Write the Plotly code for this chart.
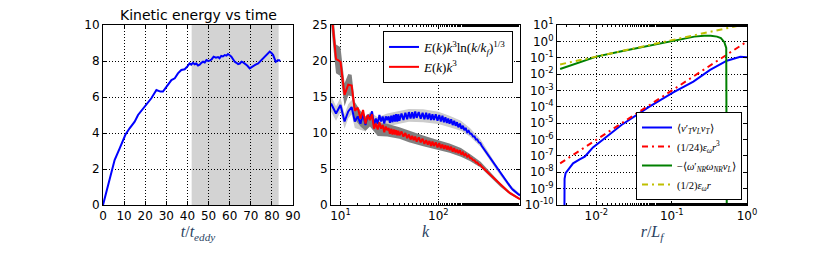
import plotly.graph_objects as go

# ---------------- Left panel: kinetic energy vs time ----------------
t_vals = [0, 5.5, 7.9, 10.6, 12.6, 15, 16.6, 19, 21.3, 22.9, 25.3, 26, 27.2, 28.4, 30, 32.4, 34,
          35.5, 37.1, 38.7, 40, 41, 41.8, 42.6, 43.4, 44.2, 45, 45.8, 46.6, 47.4, 48.2, 49, 49.8,
          50.6, 51.5, 52.4, 53.5, 54.5, 55.2, 56, 56.8, 57.7, 58.5, 59.2, 60, 60.8, 61.6, 62.4,
          63.2, 64, 64.8, 65.6, 66.4, 67.1, 68.3, 69.5, 70.3, 71.1, 72.3, 73.5, 74.2, 75, 75.8,
          76.6, 77.4, 78.2, 79, 79.8, 80.6, 81.2, 81.8, 82.4, 82.9, 83.5, 84]
ke_vals = [0, 2.5, 3.15, 3.9, 4.26, 4.63, 5.0, 5.37, 5.74, 5.93, 6.39, 6.35, 6.30, 6.30, 6.57, 6.94, 7.04,
           7.31, 7.50, 7.54, 7.70, 7.87, 7.80, 7.90, 7.82, 7.86, 7.75, 7.80, 7.90, 7.96, 7.92, 8.05, 8.00,
           8.02, 8.10, 8.24, 8.18, 8.22, 8.15, 8.28, 8.25, 8.33, 8.30, 8.39, 8.32, 8.24, 8.10, 7.96,
           7.90, 7.83, 7.86, 7.96, 7.92, 7.87, 7.75, 7.59, 7.66, 7.72, 7.80, 7.87, 7.95, 8.05, 8.10,
           8.20, 8.28, 8.43, 8.52, 8.45, 8.33, 8.15, 7.96, 8.00, 8.05, 8.02, 8.05]
shade_t = [42, 83.2]

# ---------------- Middle panel: compensated spectra ----------------
k_vals = [8, 9, 10, 11, 12, 13, 14, 15, 16, 17, 18, 19, 20, 21, 22, 23, 24, 25, 26, 27, 28, 29, 30,
          31, 32, 33, 34, 35, 36, 37, 38, 39, 40, 42, 44, 46, 48, 50, 52, 54, 56, 58, 60,
          63, 66, 69, 72, 75, 78, 81, 84, 87, 90, 94, 98, 102, 106, 110, 114, 118, 122, 126, 130,
          135, 140, 145, 150, 155, 160, 166, 172, 178, 184, 190, 197, 204, 211, 218, 226, 234, 242,
          250, 259, 268, 278, 288, 299, 310, 322, 334, 347, 360, 374, 388, 403, 418, 434, 450, 467,
          484, 502, 521, 540, 560, 580, 600, 620, 640, 660, 682]
ek3_log = [14.1, 12.7, 13.9, 11.6, 13.0, 13.6, 11.6, 12.3, 11.3, 12.7, 11.1, 12.5, 12.0, 13.0, 11.1, 12.0,
           11.3, 12.5, 11.6, 12.3, 11.3, 12.3, 11.8,
           12.3, 11.4, 12.4, 11.5, 12.5, 11.6, 12.6, 11.6, 12.6, 11.7, 12.7, 11.8, 12.8, 11.9, 12.9, 12.0,
           12.9, 12.0, 13.0, 12.1,
           12.9, 12.0, 12.8, 11.9, 12.8, 11.9, 12.7, 11.8, 12.6, 11.8, 12.6, 11.7, 12.5, 11.6, 12.4, 11.5,
           12.2, 11.4, 12.0, 11.3,
           11.9, 11.1, 11.7, 11.0, 11.5, 10.8, 11.3, 10.6, 11.0, 10.4, 10.7, 10.1, 10.3, 9.9, 9.9, 9.5,
           9.5, 9.1, 9.1, 8.7, 8.6, 8.2, 7.9, 7.6, 7.3, 6.9, 6.6, 6.3, 6.0, 5.7, 5.3, 5.0, 4.7, 4.4,
           4.1, 3.8, 3.5, 3.2, 2.85, 2.55, 2.3, 2.1, 1.9, 1.75, 1.6, 1.47, 1.35]
ek3 = [27.5, 20.3, 19.9, 15.3, 16.7, 16.6, 13.1, 13.5, 12.0, 13.2, 11.3, 12.5, 11.8, 12.6, 10.6, 11.3,
       10.5, 11.5, 10.6, 11.1, 10.1, 10.9, 10.4,
       10.7, 9.9, 10.6, 9.8, 10.5, 9.8, 10.4, 9.7, 10.3, 9.7, 10.2, 9.5, 10.0, 9.3, 9.8, 9.1,
       9.6, 9.0, 9.5, 8.8,
       9.4, 8.7, 9.2, 8.5, 9.0, 8.4, 8.9, 8.2, 8.8, 8.2, 8.7, 8.0, 8.6, 7.9, 8.4, 7.8,
       8.3, 7.7, 8.2, 7.6,
       8.1, 7.4, 7.9, 7.3, 7.7, 7.2, 7.6, 7.0, 7.3, 6.9, 7.1, 6.7, 6.9, 6.5, 6.5, 6.2,
       6.2, 5.9, 5.9, 5.6, 5.6, 5.3, 5.1, 4.9, 4.6, 4.4, 4.2, 4.0, 3.8, 3.6, 3.4, 3.2, 3.0, 2.8,
       2.6, 2.4, 2.2, 2.0, 1.8, 1.65, 1.5, 1.35, 1.22, 1.12, 1.03, 0.93, 0.83]
# spread bands
k_band = [8, 9, 10, 11, 12, 13, 14, 16, 18, 20, 24, 30, 40, 50, 70, 100, 130, 170, 210, 270, 340, 430, 540, 682]
log_hi = [15.2, 13.7, 14.9, 12.6, 14.0, 14.6, 12.5, 12.2, 12.0, 12.9, 12.2, 12.7, 13.1, 13.35, 13.3, 12.95,
          12.4, 11.7, 10.7, 9.1, 6.9, 4.7, 2.8, 1.55]
log_lo = [13.0, 11.7, 12.9, 10.6, 12.0, 12.6, 10.7, 10.4, 10.2, 11.1, 10.4, 10.9, 11.3, 11.55, 11.5, 11.25,
          10.8, 10.3, 9.5, 8.1, 6.1, 4.1, 2.3, 1.15]
k3_hi = [30.0, 22.3, 21.9, 16.9, 18.2, 18.1, 14.3, 13.1, 12.3, 12.7, 11.4, 11.3, 10.8, 10.3, 9.65, 9.0,
         8.55, 7.9, 7.1, 6.0, 4.5, 3.05, 1.85, 0.98]
k3_lo = [25.0, 18.3, 17.9, 13.7, 15.2, 15.1, 11.9, 10.9, 10.3, 10.9, 9.6, 9.5, 9.2, 8.7, 8.15, 7.6,
         7.25, 6.7, 6.1, 5.2, 3.9, 2.55, 1.45, 0.68]

# ---------------- Right panel: structure functions ----------------
r_blue = [0.00375, 0.00378, 0.0039, 0.0042, 0.0049, 0.0060, 0.0070, 0.0077, 0.0090, 0.0117, 0.015,
          0.0215, 0.05, 0.105, 0.194, 0.324, 0.54, 0.815, 1.0]
s_blue = [1e-12, 4e-9, 8.9e-9, 1.4e-8, 3.5e-8, 6.2e-8, 8.9e-8, 1.45e-7, 3.3e-7, 8.5e-7, 2.1e-6,
          7.8e-6, 1.0e-4, 7.6e-4, 3.5e-3, 1.8e-2, 6.6e-2, 0.115, 0.107]
r_red = [0.0033, 1.0]
s_red = [3.5e-8, 0.98]
r_green = [0.0033, 0.005, 0.0075, 0.01, 0.02, 0.05, 0.1, 0.15, 0.2, 0.27, 0.33, 0.4, 0.45, 0.5, 0.53, 0.54]
s_green = [0.0204, 0.038, 0.076, 0.117, 0.234, 0.56, 1.07, 1.58, 1.95, 2.19, 2.19, 1.95, 1.58, 0.89, 0.4, 1e-12]
r_yel = [0.0033, 1.0]
s_yel = [0.039, 11.8]

ytick_vals3 = [10.0 ** e for e in range(-10, 2)]
ytick_text3 = ["10<sup>%d</sup>" % e for e in range(-10, 2)]
xtick_vals3 = [0.01, 0.1, 1.0]
xtick_text3 = ["10<sup>-2</sup>", "10<sup>-1</sup>", "10<sup>0</sup>"]
xtick_vals2 = [10, 100]
xtick_text2 = ["10<sup>1</sup>", "10<sup>2</sup>"]

BLUE, RED, GREEN, YEL = "#0000ff", "#ff0000", "#008000", "#bfbf00"
SERIF = "Liberation Serif"
SANS = "DejaVu Sans"

fig = go.Figure()

fig.add_trace(go.Scatter(x=t_vals, y=ke_vals, mode="lines", line=dict(color=BLUE, width=2),
                         showlegend=False, xaxis="x", yaxis="y"))

fig.add_trace(go.Scatter(x=k_band + k_band[::-1], y=log_hi + log_lo[::-1], fill="toself",
                         fillcolor="#cccccc", line=dict(width=0), mode="lines", hoverinfo="skip",
                         showlegend=False, xaxis="x2", yaxis="y2"))
fig.add_trace(go.Scatter(x=k_band + k_band[::-1], y=k3_hi + k3_lo[::-1], fill="toself",
                         fillcolor="#808080", line=dict(width=0), mode="lines", hoverinfo="skip",
                         showlegend=False, xaxis="x2", yaxis="y2"))
fig.add_trace(go.Scatter(x=k_vals, y=ek3_log, mode="lines", line=dict(color=BLUE, width=2),
                         name="<i>E</i>(<i>k</i>)<i>k</i><sup>3</sup>ln(<i>k</i>/<i>k<sub>f</sub></i>)<sup>1/3</sup>",
                         legend="legend", xaxis="x2", yaxis="y2"))
fig.add_trace(go.Scatter(x=k_vals, y=ek3, mode="lines", line=dict(color=RED, width=2),
                         name="<i>E</i>(<i>k</i>)<i>k</i><sup>3</sup>",
                         legend="legend", xaxis="x2", yaxis="y2"))

fig.add_trace(go.Scatter(x=r_blue, y=s_blue, mode="lines", line=dict(color=BLUE, width=2),
                         name="⟨<i>v</i>′<sub><i>T</i></sub><i>v<sub>L</sub>v<sub>T</sub></i>⟩",
                         legend="legend2", xaxis="x3", yaxis="y3"))
fig.add_trace(go.Scatter(x=r_red, y=s_red, mode="lines",
                         line=dict(color=RED, width=2, dash="6px,4px,2px,4px"),
                         name="(1/24)<i>ε<sub>ω</sub>r</i><sup>3</sup>",
                         legend="legend2", xaxis="x3", yaxis="y3"))
fig.add_trace(go.Scatter(x=r_green, y=s_green, mode="lines", line=dict(color=GREEN, width=2),
                         name="−⟨<i>ω</i>′<sub><i>NR</i></sub><i>ω<sub>NR</sub>v<sub>L</sub></i>⟩",
                         legend="legend2", xaxis="x3", yaxis="y3"))
fig.add_trace(go.Scatter(x=r_yel, y=s_yel, mode="lines",
                         line=dict(color=YEL, width=2, dash="6px,4px,2px,4px"),
                         name="(1/2)<i>ε<sub>ω</sub>r</i>",
                         legend="legend2", xaxis="x3", yaxis="y3"))

Y0, Y1 = 52 / 257, 232 / 257
common = dict(showline=True, linecolor="black", linewidth=1, mirror="ticks", ticks="inside",
              ticklen=4, tickcolor="black", showgrid=True, gridcolor="#000000", griddash="1px,2px",
              gridwidth=1, zeroline=False, automargin=False,
              tickfont=dict(family=SANS, size=12, color="black"))
minor = dict(ticks="inside", ticklen=2, tickcolor="black", showgrid=False)

fig.update_layout(
    width=830, height=257, autosize=False, margin=dict(l=0, r=0, t=0, b=0, pad=0),
    paper_bgcolor="white", plot_bgcolor="white",
    xaxis=dict(domain=[103 / 830, 293 / 830], range=[0, 90], dtick=10, anchor="y",
               title=dict(text="<i>t</i>/<i>t<sub>eddy</sub></i>", font=dict(family=SERIF, size=16), standoff=3),
               **common),
    yaxis=dict(domain=[Y0, Y1], range=[0, 10], dtick=2, anchor="x", **common),
    xaxis2=dict(domain=[331 / 830, 520 / 830], type="log", range=[0.903, 2.834], anchor="y2",
                tickvals=xtick_vals2, ticktext=xtick_text2, minor=minor,
                title=dict(text="<i>k</i>", font=dict(family=SERIF, size=16), standoff=3), **common),
    yaxis2=dict(domain=[Y0, Y1], range=[0, 25], dtick=5, anchor="x2", **common),
    xaxis3=dict(domain=[557 / 830, 747 / 830], type="log", range=[-2.523, 0], anchor="y3",
                tickvals=xtick_vals3, ticktext=xtick_text3, minor=minor,
                title=dict(text="<i>r</i>/<i>L<sub>f</sub></i>", font=dict(family=SERIF, size=16), standoff=3),
                **common),
    yaxis3=dict(domain=[Y0, Y1], type="log", range=[-10, 1], anchor="x3",
                tickvals=ytick_vals3, ticktext=ytick_text3, **common),
    legend=dict(x=513 / 830, y=1 - 31 / 257, xanchor="right", yanchor="top",
                bgcolor="white", bordercolor="black", borderwidth=1,
                font=dict(family=SERIF, size=13, color="black")),
    legend2=dict(x=742 / 830, y=1 - 200 / 257, xanchor="right", yanchor="bottom",
                 bgcolor="white", bordercolor="black", borderwidth=1,
                 font=dict(family=SERIF, size=10.5, color="black")),
    shapes=[dict(type="rect", xref="x", yref="y domain", x0=shade_t[0], x1=shade_t[1], y0=0, y1=1,
                 fillcolor="#d3d3d3", line=dict(width=0), layer="below")],
    annotations=[dict(text="Kinetic energy vs time", x=198 / 830, y=1 - 15 / 257, xref="paper", yref="paper",
                      xanchor="center", yanchor="middle", showarrow=False,
                      font=dict(family=SANS, size=14, color="black"))],
)

fig.write_html("out.html", config={"displayModeBar": False},
               post_script="document.body.style.margin='0';document.body.style.padding='0';")
